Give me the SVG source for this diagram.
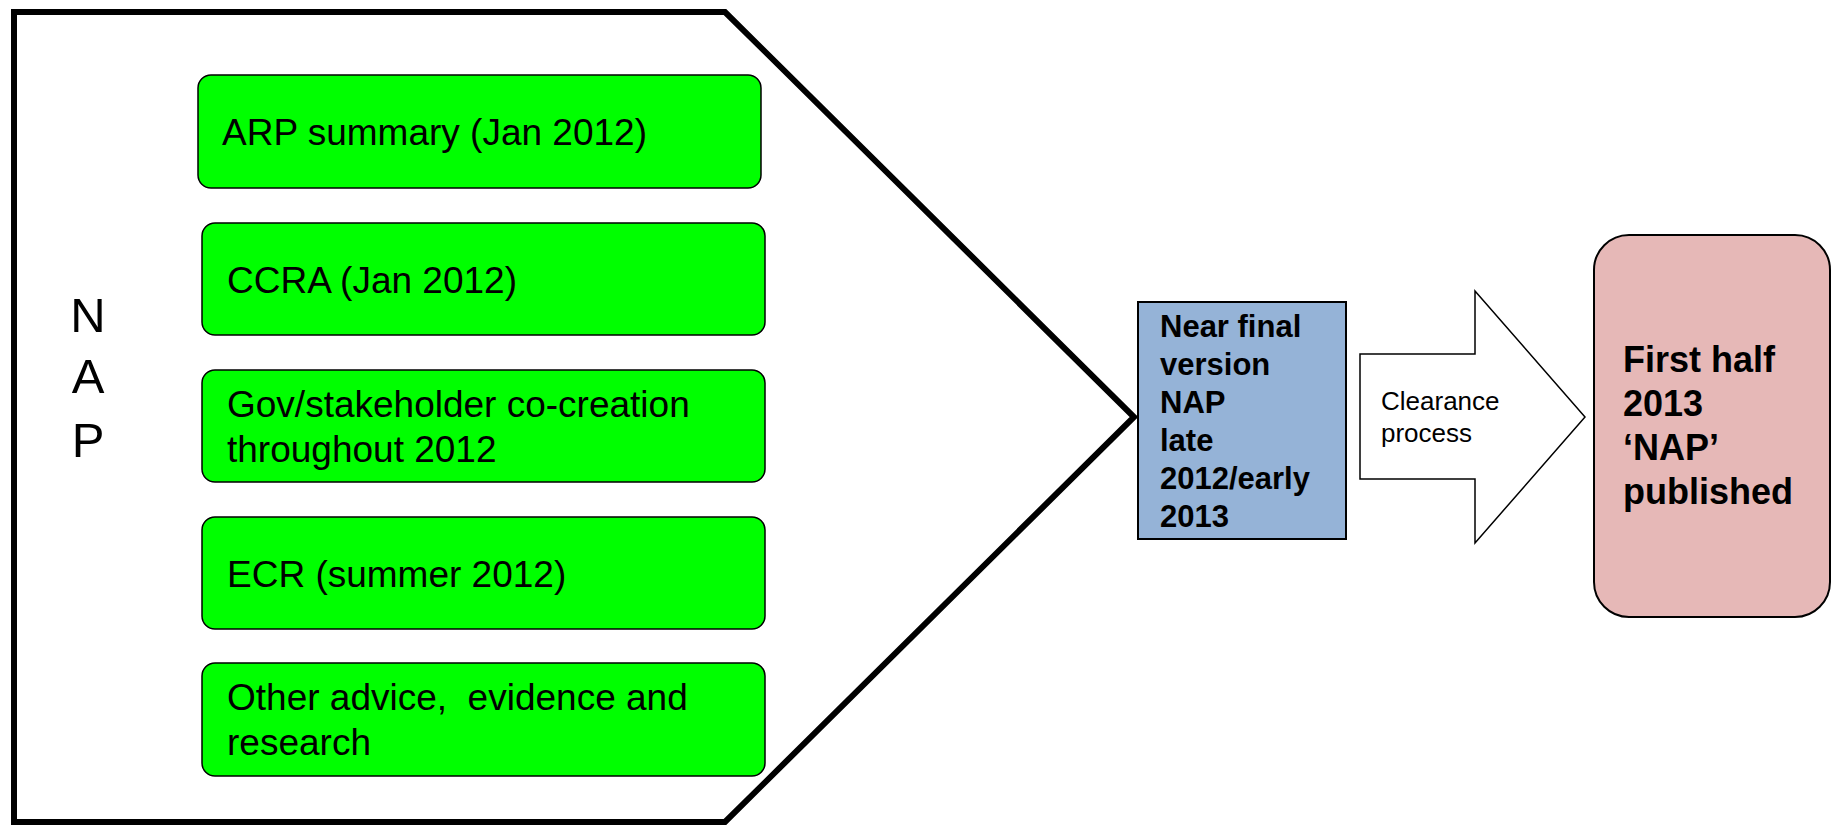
<svg xmlns="http://www.w3.org/2000/svg" width="1831" height="825" viewBox="0 0 1831 825">
<style>
.t{font-family:"Liberation Sans",Arial,sans-serif;fill:#000}
.g{font-size:37px}
.green{fill:#00FF00;stroke:#000;stroke-width:1.5}
.b{font-weight:bold}
</style>
<rect width="1831" height="825" fill="#fff"/>
<g id="nap-frame">
<polygon points="14,12 725,12 1134,417 725,822 14,822" fill="#fff" stroke="#000" stroke-width="6" stroke-linejoin="miter"/>
<text class="t" x="88" font-size="49" text-anchor="middle"><tspan x="88" y="332">N</tspan><tspan x="88" y="393">A</tspan><tspan x="88" y="457">P</tspan></text>
</g>
<g id="arp">
<rect class="green" x="198" y="75" width="563" height="113" rx="13"/>
<text class="t g" x="222" y="145">ARP summary (Jan 2012)</text>
</g>
<g id="ccra">
<rect class="green" x="202" y="223" width="563" height="112" rx="13"/>
<text class="t g" x="227" y="293">CCRA (Jan 2012)</text>
</g>
<g id="gov">
<rect class="green" x="202" y="370" width="563" height="112" rx="13"/>
<text class="t g"><tspan x="227" y="417">Gov/stakeholder co-creation</tspan><tspan x="227" y="462">throughout 2012</tspan></text>
</g>
<g id="ecr">
<rect class="green" x="202" y="517" width="563" height="112" rx="13"/>
<text class="t g" x="227" y="587">ECR (summer 2012)</text>
</g>
<g id="other">
<rect class="green" x="202" y="663" width="563" height="113" rx="13"/>
<text class="t g" xml:space="preserve"><tspan x="227" y="710">Other advice,  evidence and</tspan><tspan x="227" y="755">research</tspan></text>
</g>
<g id="near-final">
<rect x="1138" y="302" width="208" height="237" fill="#95B3D7" stroke="#000" stroke-width="2"/>
<text class="t b" font-size="31"><tspan x="1160" y="337">Near final</tspan><tspan x="1160" y="375">version</tspan><tspan x="1160" y="413">NAP</tspan><tspan x="1160" y="451">late</tspan><tspan x="1160" y="489">2012/early</tspan><tspan x="1160" y="527">2013</tspan></text>
</g>
<g id="connectors">
<g id="clearance">
<polygon points="1360,354 1475,354 1475,291 1585,417 1475,543 1475,479 1360,479" fill="#fff" stroke="#000" stroke-width="1.5"/>
<text class="t" font-size="26"><tspan x="1381" y="410">Clearance</tspan><tspan x="1381" y="442">process</tspan></text>
</g>
</g>
<g id="published">
<rect x="1594" y="235" width="236" height="382" rx="35" fill="#E6B8B7" stroke="#000" stroke-width="2"/>
<text class="t b" font-size="36"><tspan x="1623" y="372">First half</tspan><tspan x="1623" y="416">2013</tspan><tspan x="1623" y="460">‘NAP’</tspan><tspan x="1623" y="504">published</tspan></text>
</g>
</svg>
